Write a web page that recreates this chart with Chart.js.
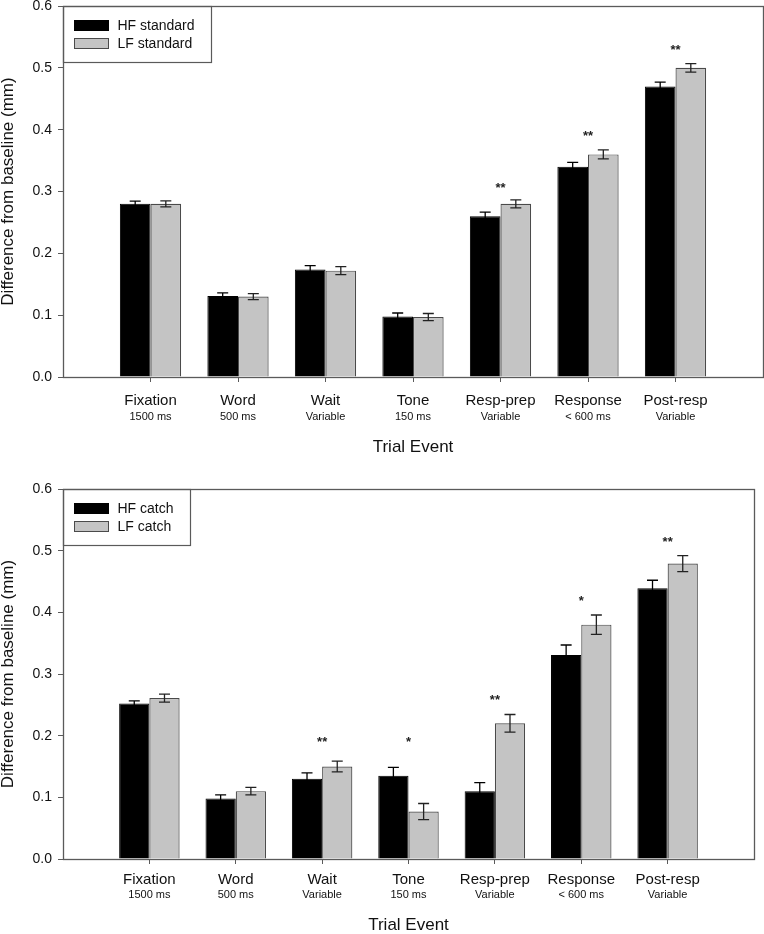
<!DOCTYPE html>
<html>
<head>
<meta charset="utf-8">
<script src="https://cdn.jsdelivr.net/npm/chart.js@4.4.1/dist/chart.umd.min.js"></script>
<style>
  body { margin: 0; background: #fff; }
  .panel { position: absolute; left: 0; width: 764px; height: 467px; }
</style>
</head>
<body>
<div class="panel" style="top:0"><canvas id="grafico1" width="764" height="467"></canvas></div>
<div class="panel" style="top:467px"><canvas id="grafico2" width="764" height="467"></canvas></div>
<script>
const categories = ['Fixation', 'Word', 'Wait', 'Tone', 'Resp-prep', 'Response', 'Post-resp'];
const durations = ['1500 ms', '500 ms', 'Variable', '150 ms', 'Variable', '< 600 ms', 'Variable'];
const yTicks = [0, 0.1, 0.2, 0.3, 0.4, 0.5, 0.6];

// top panel: standard trials
const hfStandard = [0.280, 0.131, 0.174, 0.098, 0.260, 0.340, 0.470];
const hfStandardErr = [0.0045, 0.005, 0.006, 0.0055, 0.0065, 0.007, 0.007];
const lfStandard = [0.280, 0.130, 0.172, 0.097, 0.280, 0.360, 0.500];
const lfStandardErr = [0.005, 0.005, 0.0065, 0.0057, 0.0065, 0.0073, 0.0068];
const standardSig = ['', '', '', '', '**', '**', '**'];
const standardSigAt = [null, null, null, null, 0.311, 0.395, 0.534];

// bottom panel: catch trials
const hfCatch = [0.252, 0.098, 0.130, 0.135, 0.110, 0.331, 0.439];
const hfCatchErr = [0.0043, 0.006, 0.0097, 0.0135, 0.014, 0.016, 0.013];
const lfCatch = [0.261, 0.110, 0.150, 0.077, 0.220, 0.380, 0.479];
const lfCatchErr = [0.0065, 0.006, 0.0086, 0.013, 0.0143, 0.0157, 0.013];
const catchSig = ['', '', '**', '*', '**', '*', '**'];
const catchSigAt = [null, null, 0.196, 0.196, 0.264, 0.424, 0.519];

Chart.defaults.font.family = "'Liberation Sans', Arial, sans-serif";
Chart.defaults.color = '#111';

const AXIS = '#5a5a5a';
// empty slot at each end, like the original x range
const pad = arr => [null, ...arr, null];
const padText = arr => ['', ...arr, ''];

const errorBars = {
  id: 'errorBars',
  afterDatasetsDraw(chart, args, opts) {
    const ctx = chart.ctx;
    const y = chart.scales.y;
    ctx.save();
    ctx.lineWidth = 1.3;
    chart.data.datasets.forEach((ds, d) => {
      const errs = opts.errors[d];
      ctx.strokeStyle = opts.colors[d];
      chart.getDatasetMeta(d).data.forEach((bar, i) => {
        const v = ds.data[i];
        if (v == null) return;
        const e = errs[i - 1];
        const top = y.getPixelForValue(v + e);
        const bot = y.getPixelForValue(v - e);
        ctx.beginPath();
        ctx.moveTo(bar.x, top); ctx.lineTo(bar.x, bot);
        ctx.moveTo(bar.x - 5.5, top); ctx.lineTo(bar.x + 5.5, top);
        ctx.moveTo(bar.x - 5.5, bot); ctx.lineTo(bar.x + 5.5, bot);
        ctx.stroke();
      });
    });
    ctx.restore();
  }
};

const asteriscos = {
  id: 'asteriscos',
  afterDatasetsDraw(chart, args, opts) {
    const ctx = chart.ctx;
    ctx.save();
    ctx.font = "bold 13px 'Liberation Sans', Arial";
    ctx.fillStyle = '#222';
    ctx.textAlign = 'center';
    ctx.textBaseline = 'alphabetic';
    opts.labels.forEach((txt, i) => {
      if (!txt) return;
      const x = chart.scales.x.getPixelForValue(i + 1);
      const y = chart.scales.y.getPixelForValue(opts.at[i]);
      ctx.fillText(txt, x, y + 7.5);
    });
    ctx.restore();
  }
};

// legend box sitting in the top-left corner of the plot
const leyenda = {
  id: 'leyenda',
  afterDraw(chart) {
    const ctx = chart.ctx;
    const ca = chart.chartArea;
    ctx.save();
    ctx.font = "14px 'Liberation Sans', Arial";
    const tw = Math.max(...chart.data.datasets.map(ds => ctx.measureText(ds.label).width));
    const x0 = Math.round(ca.left) + 0.5, y0 = Math.round(ca.top) + 0.5;
    const w = Math.round(54 + tw + 17), h = 56;
    ctx.fillStyle = '#fff';
    ctx.fillRect(x0, y0, w, h);
    ctx.strokeStyle = AXIS;
    ctx.lineWidth = 1.2;
    ctx.strokeRect(x0, y0, w, h);
    chart.data.datasets.forEach((ds, i) => {
      const sy = y0 + 14 + i * 18;
      ctx.fillStyle = ds.backgroundColor;
      ctx.fillRect(x0 + 11, sy, 34, 10);
      ctx.strokeStyle = ds.borderColor;
      ctx.lineWidth = 1;
      ctx.strokeRect(x0 + 11, sy, 34, 10);
      ctx.fillStyle = '#111';
      ctx.textBaseline = 'middle';
      ctx.fillText(ds.label, x0 + 54, sy + 5.5);
    });
    ctx.restore();
  }
};

const marco = {
  id: 'marco',
  afterDraw(chart) {
    const ctx = chart.ctx;
    const ca = chart.chartArea;
    ctx.save();
    ctx.strokeStyle = AXIS;
    ctx.lineWidth = 1.3;
    ctx.strokeRect(Math.round(ca.left) + 0.5, Math.round(ca.top) + 0.5,
      Math.round(ca.width), Math.round(ca.height));
    ctx.restore();
  }
};

function crearGrafico(id, names, hf, hfErr, lf, lfErr, sig, sigAt, lay) {
  const ctx = document.getElementById(id).getContext('2d');
  return new Chart(ctx, {
    type: 'bar',
    data: {
      labels: padText(categories),
      datasets: [{
        label: names[0],
        data: pad(hf),
        backgroundColor: '#000',
        borderColor: '#000',
        borderWidth: 1,
        categoryPercentage: 0.7,
        barPercentage: 1
      }, {
        label: names[1],
        data: pad(lf),
        backgroundColor: '#c4c4c4',
        borderColor: '#4a4a4a',
        borderWidth: 1.2,
        categoryPercentage: 0.7,
        barPercentage: 1
      }]
    },
    options: {
      responsive: false,
      animation: false,
      layout: { padding: lay.padding },
      plugins: {
        legend: { display: false },
        tooltip: { enabled: false },
        errorBars: { errors: [hfErr, lfErr], colors: ['#000', '#222'] },
        asteriscos: { labels: sig, at: sigAt }
      },
      scales: {
        x: {
          type: 'category',
          offset: false,
          weight: 0,
          ticks: { autoSkip: false, maxRotation: 0, font: { size: 15 }, padding: lay.tickPad },
          grid: {
            offset: false,
            drawOnChartArea: false,
            tickLength: 5,
            color: c => (c.index === 0 || c.index === 8) ? 'rgba(0,0,0,0)' : AXIS
          },
          border: { display: false },
          afterFit: s => { s.height = lay.xHeight; s.paddingLeft = 0; s.paddingRight = 0; }
        },
        x2: {
          type: 'category',
          position: 'bottom',
          labels: padText(durations),
          offset: false,
          weight: 1,
          ticks: { autoSkip: false, maxRotation: 0, font: { size: 11 }, padding: 0 },
          grid: { display: false, drawTicks: false, offset: false },
          border: { display: false },
          title: { display: true, text: 'Trial Event', font: { size: 17, lineHeight: 1 }, padding: 0 },
          afterFit: s => { s.height = lay.x2Height; s.paddingLeft = 0; s.paddingRight = 0; }
        },
        y: {
          min: 0,
          max: 0.6,
          afterBuildTicks: s => { s.ticks = yTicks.map(v => ({ value: v })); },
          ticks: { callback: v => v.toFixed(1), font: { size: 14 }, padding: 6 },
          grid: { drawOnChartArea: false, tickLength: 5, color: AXIS },
          border: { display: false },
          title: { display: true, text: 'Difference from baseline (mm)', font: { size: 17, lineHeight: 1 }, padding: 0 },
          afterFit: s => { s.width = 63; s.paddingTop = 0; s.paddingBottom = 0; }
        }
      }
    },
    plugins: [errorBars, asteriscos, leyenda, marco]
  });
}

crearGrafico('grafico1', ['HF standard', 'LF standard'],
  hfStandard, hfStandardErr, lfStandard, lfStandardErr, standardSig, standardSigAt,
  { padding: { top: 6, right: 1, bottom: 11.5, left: 0 }, tickPad: 10, xHeight: 33, x2Height: 45.5 });

crearGrafico('grafico2', ['HF catch', 'LF catch'],
  hfCatch, hfCatchErr, lfCatch, lfCatchErr, catchSig, catchSigAt,
  { padding: { top: 22, right: 10, bottom: 0, left: 0 }, tickPad: 6.5, xHeight: 29.5, x2Height: 45.5 });
</script>
</body>
</html>
